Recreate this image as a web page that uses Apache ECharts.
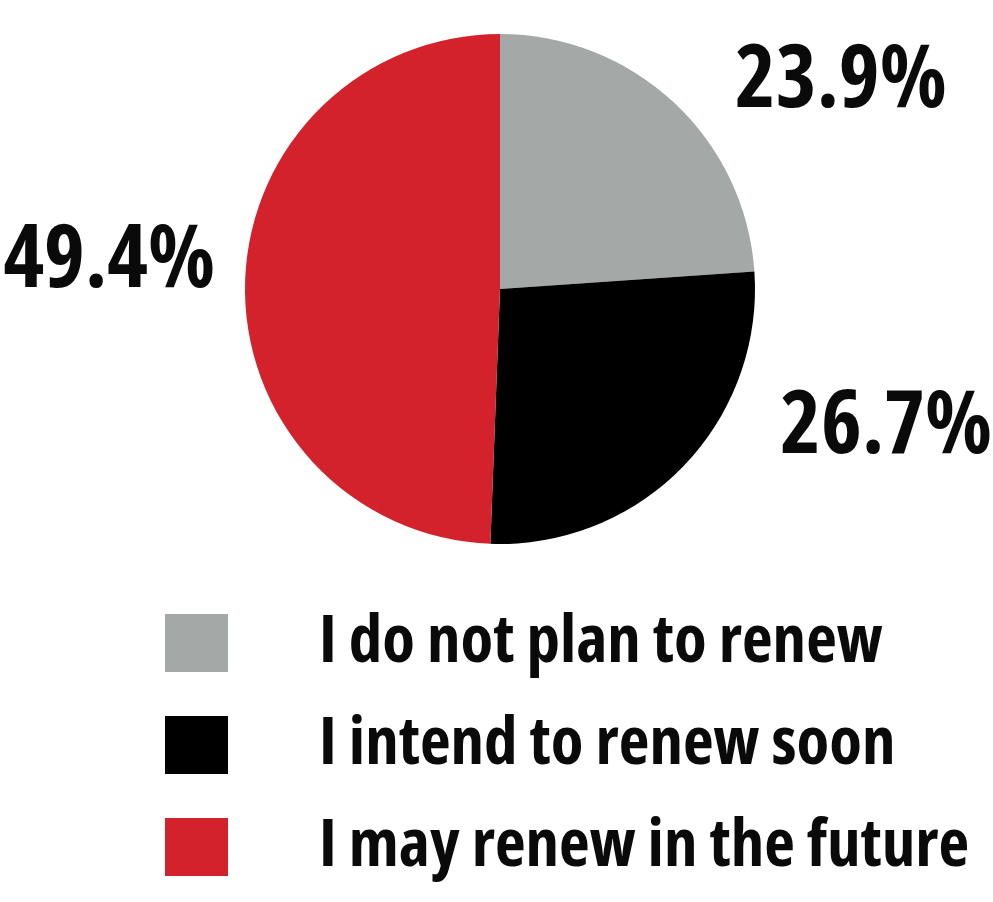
<!DOCTYPE html>
<html><head><meta charset="utf-8">
<script src="https://cdn.jsdelivr.net/npm/echarts@6/dist/echarts.min.js"></script>
<style>html,body{margin:0;background:#fff}#c{width:993px;height:902px}</style>
</head><body><div id="c"></div>
<script>
// Survey answers on renewal plans (share of respondents, %)
const categories = ['I do not plan to renew', 'I intend to renew soon', 'I may renew in the future'];
const shares = [23.9, 26.7, 49.4];
const sliceColors = ['#a4a9a8', '#000000', '#d3222b'];

// Where each percentage label sits, next to its slice
const labelSpots = [
  { x: 735, y: 82, align: 'left' },
  { x: 992, y: 428, align: 'right' },
  { x: 215, y: 262, align: 'right' }
];

const condensed = 'Open Sans';
const chart = echarts.init(document.getElementById('c'));
chart.setOption({
  animation: false,
  backgroundColor: '#ffffff',
  legend: {
    orient: 'vertical',
    left: 165,
    top: 606,
    bottom: 0,
    padding: 0,
    itemWidth: 63,
    itemHeight: 58,
    itemGap: 28,
    icon: 'rect',
    selectedMode: false,
    data: categories,
    textStyle: {
      fontFamily: condensed,
      fontWeight: 'bold condensed',
      fontSize: 67,
      lineHeight: 58,
      color: '#0a0a0a',
      padding: [16, 0, 0, 86]
    }
  },
  series: [{
    type: 'pie',
    center: [500, 289],
    radius: 255,
    startAngle: 90,
    clockwise: true,
    silent: true,
    data: categories.map((name, i) => ({
      name,
      value: shares[i],
      itemStyle: { color: sliceColors[i] }
    })),
    label: {
      show: true,
      position: 'outside',
      overflow: 'none',
      formatter: p => p.value.toFixed(1) + '%',
      fontFamily: condensed,
      fontWeight: 'bold condensed',
      fontSize: 87,
      color: '#0a0a0a'
    },
    labelLine: { show: false },
    labelLayout: p => ({
      x: labelSpots[p.dataIndex].x,
      y: labelSpots[p.dataIndex].y,
      align: labelSpots[p.dataIndex].align,
      verticalAlign: 'middle'
    })
  }]
});
</script></body></html>
